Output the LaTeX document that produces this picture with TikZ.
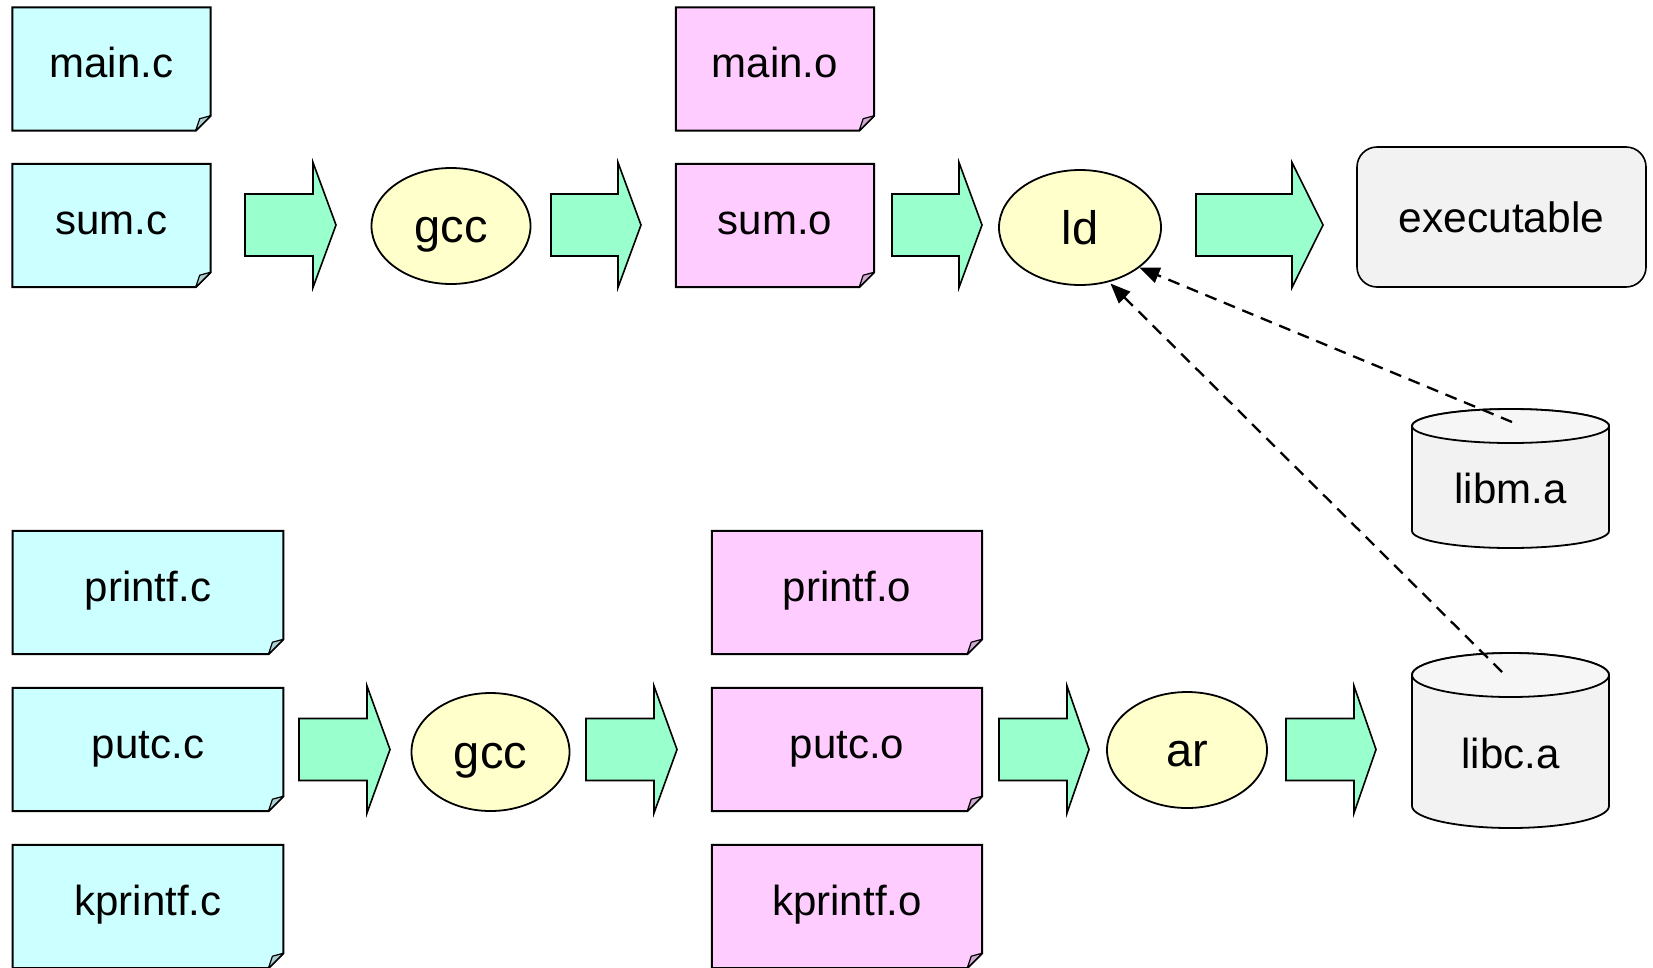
\documentclass[tikz,border=0pt]{standalone}
\usepackage{fontspec}
\setmainfont{Liberation Sans}
\usetikzlibrary{arrows.meta,backgrounds,shapes.geometric}
\definecolor{notec}{HTML}{CCFFFF}
\definecolor{noteo}{HTML}{FFCCFF}
\definecolor{foldc}{HTML}{A9D0D2}
\definecolor{foldo}{HTML}{D2A9D2}
\definecolor{arrowg}{HTML}{99FFCC}
\definecolor{elly}{HTML}{FFFFCC}
\definecolor{boxg}{HTML}{F2F2F2}
\definecolor{cyltop}{HTML}{F6F6F6}
\tikzset{
  notenode/.style={inner sep=0pt, text height=30pt, text depth=13pt, font=\fontsize{42}{48}\selectfont},
  noteline/.style={draw=black, line width=2pt, line join=miter},
  foldline/.style={draw=black, line width=1.2pt, line join=round},
  tool/.style={ellipse, draw=black, line width=1.8pt, fill=elly, inner sep=0pt,
    text height=36pt, text depth=3pt, font=\fontsize{47}{52}\selectfont},
  bigarrow/.style={draw=black, fill=arrowg, line width=1.6pt, line join=miter},
  exebox/.style={rectangle, draw=black, fill=boxg, line width=1.6pt, rounded corners=20pt,
    inner sep=0pt, minimum width=289pt, minimum height=140pt,
    text height=40pt, text depth=10pt, font=\fontsize{42.5}{48}\selectfont},
  cylline/.style={draw=black, line width=1.8pt},
  cyltext/.style={inner sep=0pt, anchor=base, font=\fontsize{42}{46}\selectfont},
  dep/.style={draw=black, line width=2.3pt, dash pattern=on 12pt off 8pt,
    -{Triangle[length=20pt,width=16pt]}},
}
% name, cx, cy, w, h, fill, fold, text
\newcommand\notebox[8]{%
  \node[notenode, minimum width=#4pt, minimum height=#5pt] (#1) at (#2,#3) {#8};
  \begin{pgfonlayer}{background}
    \draw[noteline, fill=#6] (#1.north west) -- (#1.north east) -- ([yshift=15pt]#1.south east)
      -- ([xshift=-15pt]#1.south east) -- (#1.south west) -- cycle;
    \draw[foldline, fill=#7] ([yshift=15pt]#1.south east) -- ([xshift=-15pt]#1.south east)
      -- ([xshift=-11pt,yshift=12pt]#1.south east) -- cycle;
  \end{pgfonlayer}}
% x1, xhead, xtip, yc, headhalf
\newcommand\bigarr[5]{%
  \draw[bigarrow] (#1,#4-31) -- (#2,#4-31) -- (#2,#4-#5) -- (#3,#4) -- (#2,#4+#5)
    -- (#2,#4+31) -- (#1,#4+31) -- cycle;}
% x1, x2, ytop, ybot, rx, ry
\newcommand\cyl[6]{%
  \draw[cylline, fill=boxg] (#1,#4-#6) arc[start angle=180, end angle=360, x radius=#5pt, y radius=#6pt]
    -- (#2,#3+#6) arc[start angle=0, end angle=180, x radius=#5pt, y radius=#6pt] -- cycle;
  \draw[cylline, fill=cyltop] ({(#1+#2)/2},#3+#6) ellipse[x radius=#5pt, y radius=#6pt];}

\begin{document}
\begin{tikzpicture}[x=1pt, y=-1pt]
\begin{pgfonlayer}{background}
  \fill[white] (0,0) rectangle (1653,967);
\end{pgfonlayer}
\useasboundingbox (0,0) rectangle (1653,967);

% top row
\notebox{mainc}{111.5}{69}{198}{123}{notec}{foldc}{main.c}
\notebox{sumc}{111.5}{225.5}{198}{123}{notec}{foldc}{sum.c}
\bigarr{245}{313}{336}{225}{62.5}
\node[tool, minimum width=159pt, minimum height=116pt] (gcca) at (451,226) {gcc};
\bigarr{551}{618}{641}{225}{62.5}
\notebox{maino}{775}{69}{198}{123}{noteo}{foldo}{main.o}
\notebox{sumo}{775}{225.5}{198}{123}{noteo}{foldo}{sum.o}
\bigarr{892}{959}{982}{225}{62.5}
\node[tool, minimum width=162pt, minimum height=115pt] (ld) at (1080,227.5) {ld};
\bigarr{1196}{1292}{1323}{225}{62.5}
\node[exebox] (exe) at (1501.5,217) {executable};

% libraries
\cyl{1412}{1609}{409}{548}{98.5}{17}
\node[cyltext] (libm) at (1510.5,503) {libm.a};
\cyl{1412}{1609}{653}{828}{98.5}{22}
\node[cyltext] (libc) at (1510.5,768) {libc.a};

% bottom row
\notebox{printfc}{148}{592.5}{270.5}{123}{notec}{foldc}{printf.c}
\notebox{putcc}{148}{749.5}{270.5}{123}{notec}{foldc}{putc.c}
\notebox{kprintfc}{148}{906.5}{270.5}{123}{notec}{foldc}{kprintf.c}
\bigarr{299}{367}{390}{749.5}{63.5}
\node[tool, minimum width=158pt, minimum height=118pt] (gccb) at (490.5,752) {gcc};
\bigarr{586}{654}{677}{749.5}{63.5}
\notebox{printfo}{847}{592.5}{270}{123}{noteo}{foldo}{printf.o}
\notebox{putco}{847}{749.5}{270}{123}{noteo}{foldo}{putc.o}
\notebox{kprintfo}{847}{906.5}{270}{123}{noteo}{foldo}{kprintf.o}
\bigarr{999}{1067}{1089}{749.5}{63.5}
\node[tool, minimum width=160pt, minimum height=116pt] (ar) at (1187,750) {ar};
\bigarr{1286}{1354}{1376}{749.5}{63.5}

% dependencies
\coordinate (libmsrc) at (1512,422);
\coordinate (libcsrc) at (1502,672);
\draw[dep] (libmsrc) -- (ld.-34);
\draw[dep, shorten >=2pt] (libcsrc) -- (ld.-62);
\end{tikzpicture}
\end{document}
